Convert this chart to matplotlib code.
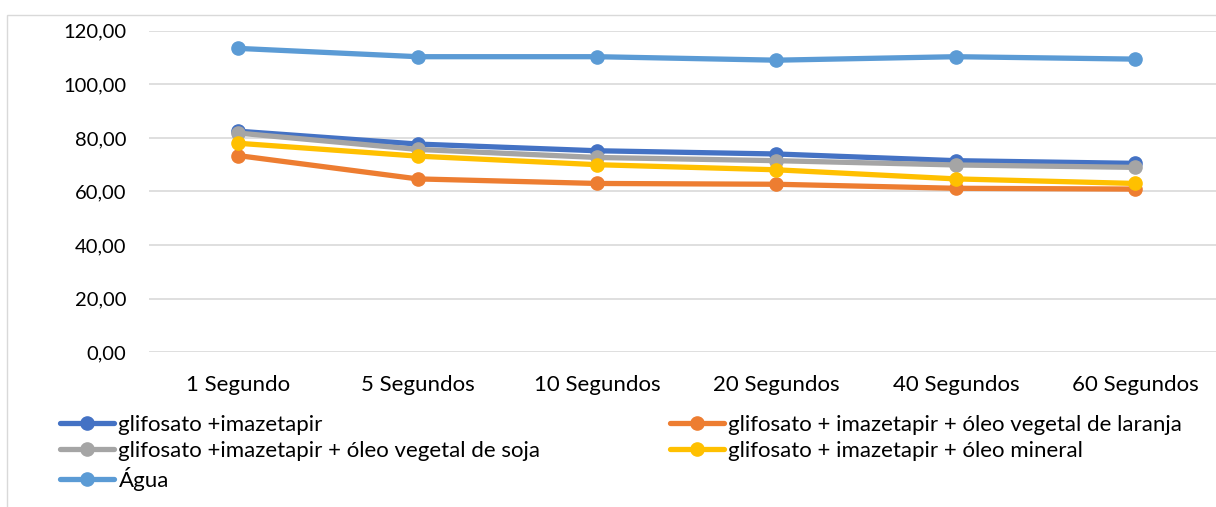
import numpy as np
import matplotlib.pyplot as plt
from matplotlib.patches import Rectangle
from matplotlib.ticker import FuncFormatter

plt.rcParams['font.family'] = ['Lato', 'DejaVu Sans']

# --- data ---
categories = ['1 Segundo', '5 Segundos', '10 Segundos', '20 Segundos', '40 Segundos', '60 Segundos']
series_names = ['glifosato +imazetapir',
                'glifosato + imazetapir + óleo vegetal de laranja',
                'glifosato +imazetapir + óleo vegetal de soja',
                'glifosato + imazetapir + óleo mineral',
                'Água']
glif_imaz = [82.5, 77.7, 75.2, 74.0, 71.5, 70.5]
glif_laranja = [73.4, 64.7, 63.0, 62.7, 61.2, 60.9]
glif_soja = [81.8, 75.7, 72.7, 71.5, 69.9, 69.0]
glif_mineral = [78.0, 73.2, 70.0, 68.1, 64.7, 63.0]
agua = [113.4, 110.3, 110.3, 109.0, 110.3, 109.4]

colors = ['#4472C4', '#ED7D31', '#A5A5A5', '#FFC000', '#5B9BD5']
values = [glif_imaz, glif_laranja, glif_soja, glif_mineral, agua]

W, H = 1216, 507
fig = plt.figure(figsize=(W / 100, H / 100), dpi=100)

# chart border (cut by the image edges)
fig.patches.append(Rectangle((7 / W, -0.1), 1.1, 1 - 15 / H + 0.1, transform=fig.transFigure,
                             fill=False, edgecolor='#D9D9D9', linewidth=1.0))

ax = fig.add_axes([148.5 / W, 1 - 352.3 / H, (1225 - 148.5) / W, (352.3 - 30.7) / H])
x = np.arange(len(categories))

# draw order as in Excel: first series at the bottom
handles = []
for name, vals, c in zip(series_names, values, colors):
    h, = ax.plot(x, vals, color=c, linewidth=3.8, marker='o', markersize=9.5,
                 solid_capstyle='round', label=name, zorder=3)
    handles.append(h)

ax.set_xlim(-0.5, len(categories) - 0.5)
ax.set_ylim(0, 120)
ax.set_yticks(np.arange(0, 121, 20))
ax.yaxis.set_major_formatter(FuncFormatter(lambda v, p: f'{v:.2f}'.replace('.', ',')))
ax.set_xticks(x)
ax.set_xticklabels(categories)
ax.grid(axis='y', color='#D9D9D9', linewidth=1.2)
ax.set_axisbelow(True)
for s in ax.spines.values():
    s.set_visible(False)
ax.tick_params(length=0, colors='#000000')
ax.tick_params(axis='y', labelsize=14.5, pad=16)
ax.tick_params(axis='x', labelsize=16, pad=16)

# legend: two columns laid out row by row like Excel
leg_kw = dict(frameon=False, fontsize=16, handlelength=2.45, handletextpad=0.18,
              labelspacing=0.26, borderpad=0, borderaxespad=0, loc='upper left')
leg1 = fig.legend([handles[0], handles[2], handles[4]],
                  [series_names[0], series_names[2], series_names[4]],
                  bbox_to_anchor=(60 / W, 1 - 415 / H), **leg_kw)
leg2 = fig.legend([handles[1], handles[3]], [series_names[1], series_names[3]],
                  bbox_to_anchor=(670 / W, 1 - 415 / H), **leg_kw)

fig.savefig('out.png', dpi=100, facecolor='white')
